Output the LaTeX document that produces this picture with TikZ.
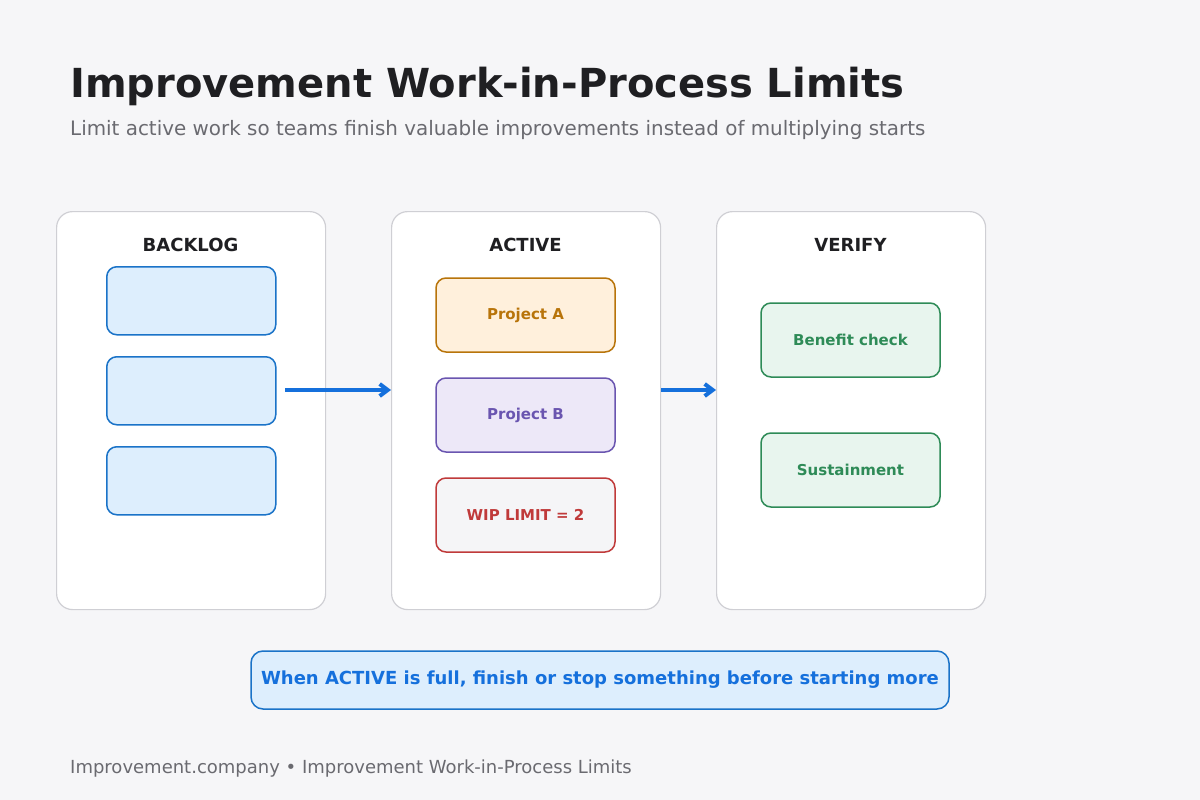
\documentclass[tikz,border=0pt]{standalone}
\usepackage{fontspec}
\setmainfont{DejaVu Sans}
\usetikzlibrary{arrows.meta}
\definecolor{bg}{HTML}{F6F6F8}
\definecolor{bluefill}{HTML}{DDEEFD}
\definecolor{bluestroke}{HTML}{1A73C8}
\definecolor{arrowblue}{HTML}{1570DC}
\definecolor{orfill}{HTML}{FFF0DC}
\definecolor{orstroke}{HTML}{B8740A}
\definecolor{pufill}{HTML}{EDE8F8}
\definecolor{pustroke}{HTML}{6A55B0}
\definecolor{wipfill}{HTML}{F5F5F7}
\definecolor{redc}{HTML}{C03A3A}
\definecolor{grfill}{HTML}{E8F5EE}
\definecolor{grstroke}{HTML}{2E8B57}
\definecolor{titlec}{HTML}{1F1F22}
\definecolor{grayt}{HTML}{6A6A70}
\definecolor{colstroke}{HTML}{CFCFD4}
\tikzset{
 col/.style={draw=colstroke,line width=1.2pt,fill=white,rounded corners=16pt,minimum width=269pt,minimum height=398pt,anchor=north west},
 card/.style={line width=1.5pt,rounded corners=10pt,minimum width=179pt,minimum height=74pt,font=\fontsize{15}{17}\selectfont\bfseries},
 bcard/.style={draw=bluestroke,fill=bluefill,line width=1.5pt,rounded corners=10pt,minimum width=169pt,minimum height=68pt,anchor=north west},
 hdr/.style={font=\fontsize{18}{21}\selectfont\bfseries,text=titlec},
 flow/.style={-{Straight Barb[length=8pt,width=12pt]},line width=4pt,draw=arrowblue}
}
\begin{document}
\begin{tikzpicture}[x=1pt,y=-1pt]
\fill[bg] (0,0) rectangle (1200,800);
\useasboundingbox (0,0) rectangle (1200,800);
\node[anchor=base west,font=\fontsize{40}{46}\selectfont\bfseries,text=titlec,inner sep=0] (title) at (70,97) {Improvement Work-in-Process Limits};
\node[anchor=base west,font=\fontsize{19.9}{23}\selectfont,text=grayt,inner sep=0] (sub) at (70,135) {Limit active work so teams finish valuable improvements instead of multiplying starts};
\node[col] (c1) at (56,211) {};
\node[col] (c2) at (391,211) {};
\node[col] (c3) at (716,211) {};
\node[hdr] at (190.5,245) {BACKLOG};
\node[hdr] at (525.5,245) {ACTIVE};
\node[hdr] at (850.5,245) {VERIFY};
\node[bcard] (b1) at (106,266) {};
\node[bcard] (b2) at (106,356) {};
\node[bcard] (b3) at (106,446) {};
\node[card,draw=orstroke,fill=orfill,text=orstroke] (pa) at (525.5,315) {Project A};
\node[card,draw=pustroke,fill=pufill,text=pustroke] (pb) at (525.5,415) {Project B};
\node[card,draw=redc,fill=wipfill,text=redc] (wip) at (525.5,515) {WIP LIMIT = 2};
\node[card,draw=grstroke,fill=grfill,text=grstroke] (bc) at (850.5,340) {Benefit check};
\node[card,draw=grstroke,fill=grfill,text=grstroke] (su) at (850.5,470) {Sustainment};
\coordinate (a1s) at (285,390);
\draw[flow] (a1s) -- (c2.west |- a1s);
\draw[flow] (c2.east |- a1s) -- (c3.west |- a1s);
\node[draw=bluestroke,fill=bluefill,line width=1.5pt,rounded corners=12pt,minimum width=698pt,minimum height=58pt,text=arrowblue,font=\fontsize{18}{21}\selectfont\bfseries] (ban) at (600,680) {When ACTIVE is full, finish or stop something before starting more};
\node[anchor=base west,font=\fontsize{18}{21}\selectfont,text=grayt,inner sep=0] (foot) at (70,773) {Improvement.company • Improvement Work-in-Process Limits};
\end{tikzpicture}
\end{document}
